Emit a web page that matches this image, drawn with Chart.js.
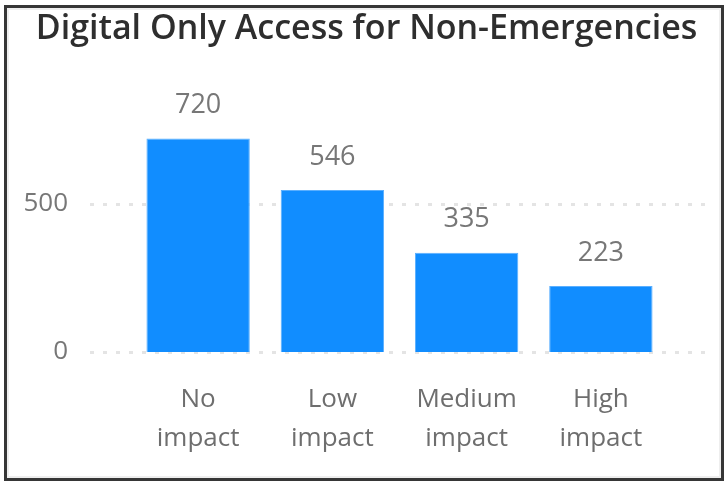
<!DOCTYPE html>
<html>
<head>
<meta charset="utf-8">
<script src="https://cdn.jsdelivr.net/npm/chart.js@4"></script>
<style>
  body { margin: 0; background: #fff; }
  #wrap { position: relative; width: 725px; height: 481px; }
  #frame {
    position: absolute; left: 4px; top: 5px; width: 720px; height: 476px;
    box-sizing: border-box; border: 3px solid #363636;
    box-shadow: inset 0 0 0 2px #eeeeee;
    pointer-events: none;
  }
</style>
</head>
<body>
<div id="wrap">
  <canvas id="chart" width="725" height="481"></canvas>
  <div id="frame"></div>
</div>
<script>
const categories = [["No", "impact"], ["Low", "impact"], ["Medium", "impact"], ["High", "impact"]];
const values = [720, 546, 335, 223];
const yTicks = [0, 500];

const FONT = "'Open Sans', 'Noto Sans', sans-serif";

// dotted gridlines that run a bit past the bars, like the original
const gridPlugin = {
  id: 'dottedGrid',
  beforeDatasetsDraw(chart) {
    const { ctx, chartArea, scales } = chart;
    ctx.save();
    ctx.strokeStyle = '#e4e4e4';
    ctx.lineWidth = 3;
    ctx.setLineDash([4, 9]);
    yTicks.forEach(t => {
      const y = Math.round(scales.y.getPixelForValue(t)) + 0.5;
      ctx.beginPath();
      ctx.moveTo(chartArea.left - 41, y);
      ctx.lineTo(chartArea.right + 39, y);
      ctx.stroke();
    });
    ctx.restore();
  }
};

// value labels above each bar
const labelPlugin = {
  id: 'barValues',
  afterDatasetsDraw(chart) {
    const { ctx } = chart;
    ctx.save();
    ctx.fillStyle = '#777777';
    ctx.font = `27px ${FONT}`;
    ctx.textAlign = 'center';
    ctx.textBaseline = 'middle';
    chart.getDatasetMeta(0).data.forEach((bar, i) => {
      ctx.fillText(values[i], bar.x, bar.y - 33);
    });
    ctx.restore();
  }
};

new Chart(document.getElementById('chart'), {
  type: 'bar',
  data: {
    labels: categories,
    datasets: [{
      data: values,
      backgroundColor: '#118DFF',
      borderColor: '#5aafff',
      borderWidth: 1,
      barPercentage: 0.77,
      categoryPercentage: 1
    }]
  },
  options: {
    responsive: false,
    animation: false,
    layout: { padding: { left: 8, right: 0, top: 0, bottom: 23 } },
    plugins: {
      legend: { display: false },
      tooltip: { enabled: false },
      title: {
        display: true,
        text: 'Digital Only Access for Non-Emergencies',
        color: '#2e2e2e',
        font: { family: FONT, size: 34, weight: '600', lineHeight: 1.2 },
        padding: { top: 9, bottom: 65 }
      }
    },
    scales: {
      x: {
        afterFit: s => { s.height = 106; },
        grid: { display: false, drawTicks: false },
        border: { display: false },
        ticks: {
          color: '#6e6e6e',
          padding: 28,
          font: { family: FONT, size: 26, lineHeight: 1.5 }
        }
      },
      y: {
        min: 0,
        max: 800,
        afterFit: s => { s.width = 123; },
        afterBuildTicks: s => { s.ticks = yTicks.map(v => ({ value: v })); },
        grid: { display: false, drawTicks: false },
        border: { display: false },
        ticks: {
          color: '#777777',
          padding: 63,
          font: { family: FONT, size: 26 }
        }
      },
      // empty right-hand axis, only reserves space so the title stays centred
      yRight: {
        position: 'right',
        min: 0,
        max: 800,
        afterFit: s => { s.width = 57; },
        grid: { display: false, drawTicks: false },
        border: { display: false },
        ticks: { display: false }
      }
    }
  },
  plugins: [gridPlugin, labelPlugin]
});
</script>
</body>
</html>
